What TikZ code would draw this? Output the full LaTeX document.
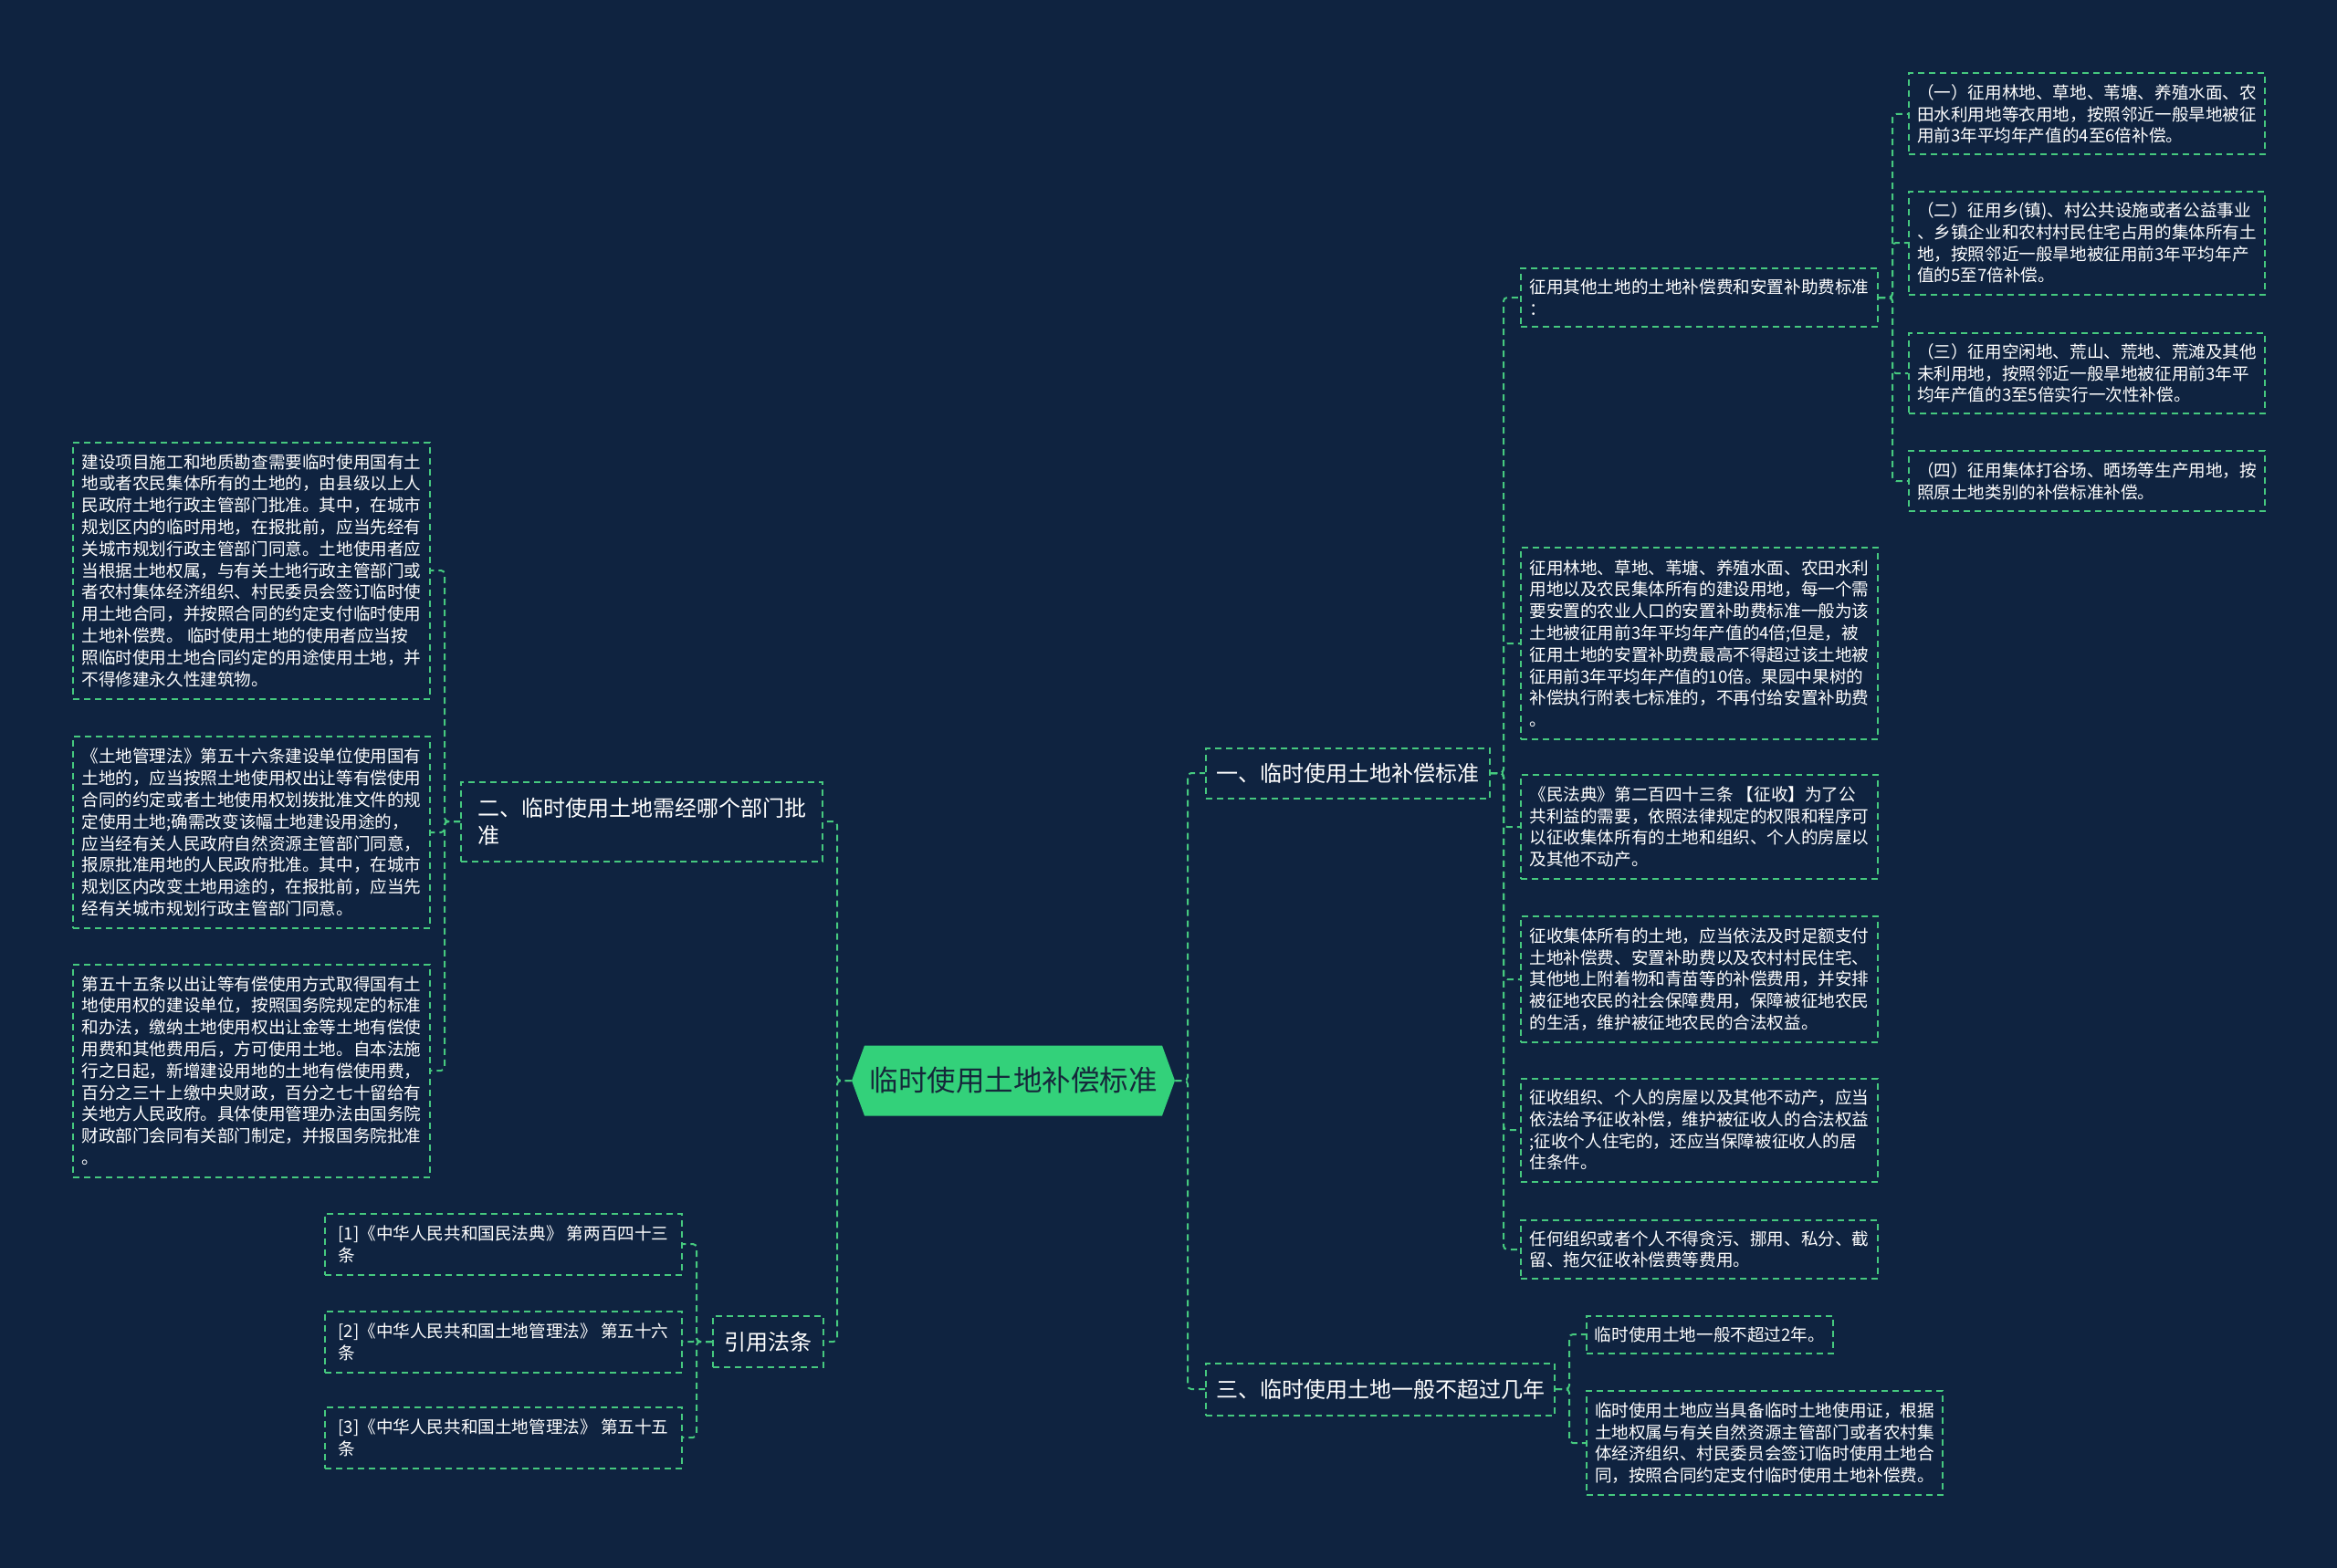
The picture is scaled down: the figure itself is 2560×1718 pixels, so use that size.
\documentclass[tikz,border=0pt]{standalone}
\usepackage{fontspec}
\setmainfont{Noto Sans CJK SC}

\definecolor{bgnavy}{HTML}{0F2340}
\definecolor{linegreen}{HTML}{46C97F}
\definecolor{rootgreen}{HTML}{33D17A}
\definecolor{roottext}{HTML}{15283A}

\tikzset{
    root/.style={text=roottext, font=\fontsize{15.75pt}{18pt}\selectfont,
        minimum width=177pt, minimum height=38.5pt, inner sep=0pt,
        path picture={\fill[rootgreen] (path picture bounding box.west)
            -- ([xshift=7pt]path picture bounding box.north west)
            -- ([xshift=-7pt]path picture bounding box.north east)
            -- (path picture bounding box.east)
            -- ([xshift=-7pt]path picture bounding box.south east)
            -- ([xshift=7pt]path picture bounding box.south west) -- cycle;}},
    dashbox/.style={draw=linegreen, line width=1pt, dash pattern=on 3.5pt off 2.5pt,
        text=white, align=left, anchor=west, inner sep=0pt},
    topic/.style={dashbox, font=\fontsize{12pt}{15pt}\selectfont},
    leaf/.style={dashbox, font=\fontsize{9.3pt}{11.9pt}\selectfont, minimum width=195.5pt},
    link/.style={draw=linegreen, line width=1pt, dash pattern=on 3.5pt off 2.5pt, rounded corners=2pt}
}

\begin{document}
\begin{tikzpicture}[x=0.5pt, y=-0.5pt]
    \fill[bgnavy] (0,0) rectangle (2560,1718);
    \useasboundingbox (0,0) rectangle (2560,1718);

    % centre and main branches
    \path node[root] (root) at (1110,1184) {临时使用土地补偿标准}
        node[topic, minimum width=155.5pt, minimum height=27.5pt] (one) at (1320,847) {一、临时使用土地补偿标准}
        node[topic, minimum width=191pt, minimum height=28.5pt] (three) at (1320,1522) {三、临时使用土地一般不超过几年}
        node[topic, minimum width=198pt, minimum height=43.5pt] (two) at (504,900) {二、临时使用土地需经哪个部门批\\准}
        node[topic, minimum width=60.5pt, minimum height=28pt] (refs) at (780,1470) {引用法条};

    % branch one
    \path node[leaf, minimum height=32pt] (other) at (1665,326) {征用其他土地的土地补偿费和安置补助费标准\\：}
        node[leaf, minimum height=105pt] (place) at (1665,705) {征用林地、草地、苇塘、养殖水面、农田水利\\用地以及农民集体所有的建设用地，每一个需\\要安置的农业人口的安置补助费标准一般为该\\土地被征用前3年平均年产值的4倍;但是，被\\征用土地的安置补助费最高不得超过该土地被\\征用前3年平均年产值的10倍。果园中果树的\\补偿执行附表七标准的，不再付给安置补助费\\。}
        node[leaf, minimum height=57pt] (civil) at (1665,906) {《民法典》第二百四十三条 【征收】为了公\\共利益的需要，依照法律规定的权限和程序可\\以征收集体所有的土地和组织、个人的房屋以\\及其他不动产。}
        node[leaf, minimum height=69pt] (collect) at (1665,1073) {征收集体所有的土地，应当依法及时足额支付\\土地补偿费、安置补助费以及农村村民住宅、\\其他地上附着物和青苗等的补偿费用，并安排\\被征地农民的社会保障费用，保障被征地农民\\的生活，维护被征地农民的合法权益。}
        node[leaf, minimum height=56.5pt] (house) at (1665,1238) {征收组织、个人的房屋以及其他不动产，应当\\依法给予征收补偿，维护被征收人的合法权益\\;征收个人住宅的，还应当保障被征收人的居\\住条件。}
        node[leaf, minimum height=32pt] (misuse) at (1665,1369) {任何组织或者个人不得贪污、挪用、私分、截\\留、拖欠征收补偿费等费用。};

    \path node[leaf, minimum width=195pt, minimum height=44.5pt] (kind1) at (2090,125) {（一）征用林地、草地、苇塘、养殖水面、农\\田水利用地等衣用地，按照邻近一般旱地被征\\用前3年平均年产值的4至6倍补偿。}
        node[leaf, minimum width=195pt, minimum height=56.5pt] (kind2) at (2090,266) {（二）征用乡(镇)、村公共设施或者公益事业\\、乡镇企业和农村村民住宅占用的集体所有土\\地，按照邻近一般旱地被征用前3年平均年产\\值的5至7倍补偿。}
        node[leaf, minimum width=195pt, minimum height=44pt] (kind3) at (2090,409) {（三）征用空闲地、荒山、荒地、荒滩及其他\\未利用地，按照邻近一般旱地被征用前3年平\\均年产值的3至5倍实行一次性补偿。}
        node[leaf, minimum width=195pt, minimum height=33pt] (kind4) at (2090,527) {（四）征用集体打谷场、晒场等生产用地，按\\照原土地类别的补偿标准补偿。};

    % branch three
    \path node[leaf, minimum width=135pt, minimum height=20.5pt] (twoyears) at (1737,1462) {临时使用土地一般不超过2年。}
        node[leaf, minimum width=195pt, minimum height=57pt] (permit) at (1737,1581) {临时使用土地应当具备临时土地使用证，根据\\土地权属与有关自然资源主管部门或者农村集\\体经济组织、村民委员会签订临时使用土地合\\同，按照合同约定支付临时使用土地补偿费。};

    % branch two
    \path node[leaf, minimum height=140.5pt] (approve) at (79,625) {建设项目施工和地质勘查需要临时使用国有土\\地或者农民集体所有的土地的，由县级以上人\\民政府土地行政主管部门批准。其中，在城市\\规划区内的临时用地，在报批前，应当先经有\\关城市规划行政主管部门同意。土地使用者应\\当根据土地权属，与有关土地行政主管部门或\\者农村集体经济组织、村民委员会签订临时使\\用土地合同，并按照合同的约定支付临时使用\\土地补偿费。 临时使用土地的使用者应当按\\照临时使用土地合同约定的用途使用土地，并\\不得修建永久性建筑物。}
        node[leaf, minimum height=105pt] (art56) at (79,912) {《土地管理法》第五十六条建设单位使用国有\\土地的，应当按照土地使用权出让等有偿使用\\合同的约定或者土地使用权划拨批准文件的规\\定使用土地;确需改变该幅土地建设用途的，\\应当经有关人民政府自然资源主管部门同意，\\报原批准用地的人民政府批准。其中，在城市\\规划区内改变土地用途的，在报批前，应当先\\经有关城市规划行政主管部门同意。}
        node[leaf, minimum height=116.5pt] (art55) at (79,1173) {第五十五条以出让等有偿使用方式取得国有土\\地使用权的建设单位，按照国务院规定的标准\\和办法，缴纳土地使用权出让金等土地有偿使\\用费和其他费用后，方可使用土地。自本法施\\行之日起，新增建设用地的土地有偿使用费，\\百分之三十上缴中央财政，百分之七十留给有\\关地方人民政府。具体使用管理办法由国务院\\财政部门会同有关部门制定，并报国务院批准\\。};

    % references
    \path node[leaf, minimum height=33.5pt] (ref1) at (355,1363) {[1]《中华人民共和国民法典》 第两百四十三\\条}
        node[leaf, minimum height=33.5pt] (ref2) at (355,1470) {[2]《中华人民共和国土地管理法》 第五十六\\条}
        node[leaf, minimum height=33.5pt] (ref3) at (355,1575) {[3]《中华人民共和国土地管理法》 第五十五\\条};

    % bus points
    \coordinate (rbus) at (1301,1184);
    \coordinate (lbus) at (917,1184);
    \coordinate (onebus) at (1647,847);
    \coordinate (otherbus) at (2073,326);
    \coordinate (threebus) at (1719,1522);
    \coordinate (twobus) at (487,900);
    \coordinate (refbus) at (763,1470);

    \draw[link] (root.east) -- (rbus) |- (one.west);
    \draw[link] (root.east) -- (rbus) |- (three.west);
    \draw[link] (root.west) -- (lbus) |- (two.east);
    \draw[link] (root.west) -- (lbus) |- (refs.east);

    \draw[link] (one.east) -- (onebus) |- (other.west);
    \draw[link] (one.east) -- (onebus) |- (place.west);
    \draw[link] (one.east) -- (onebus) |- (civil.west);
    \draw[link] (one.east) -- (onebus) |- (collect.west);
    \draw[link] (one.east) -- (onebus) |- (house.west);
    \draw[link] (one.east) -- (onebus) |- (misuse.west);

    \draw[link] (other.east) -- (otherbus) |- (kind1.west);
    \draw[link] (other.east) -- (otherbus) |- (kind2.west);
    \draw[link] (other.east) -- (otherbus) |- (kind3.west);
    \draw[link] (other.east) -- (otherbus) |- (kind4.west);

    \draw[link] (three.east) -- (threebus) |- (twoyears.west);
    \draw[link] (three.east) -- (threebus) |- (permit.west);

    \draw[link] (two.west) -- (twobus) |- (approve.east);
    \draw[link] (two.west) -- (twobus) |- (art56.east);
    \draw[link] (two.west) -- (twobus) |- (art55.east);

    \draw[link] (refs.west) -- (refbus) |- (ref1.east);
    \draw[link] (refs.west) -- (refbus) |- (ref2.east);
    \draw[link] (refs.west) -- (refbus) |- (ref3.east);
\end{tikzpicture}
\end{document}
